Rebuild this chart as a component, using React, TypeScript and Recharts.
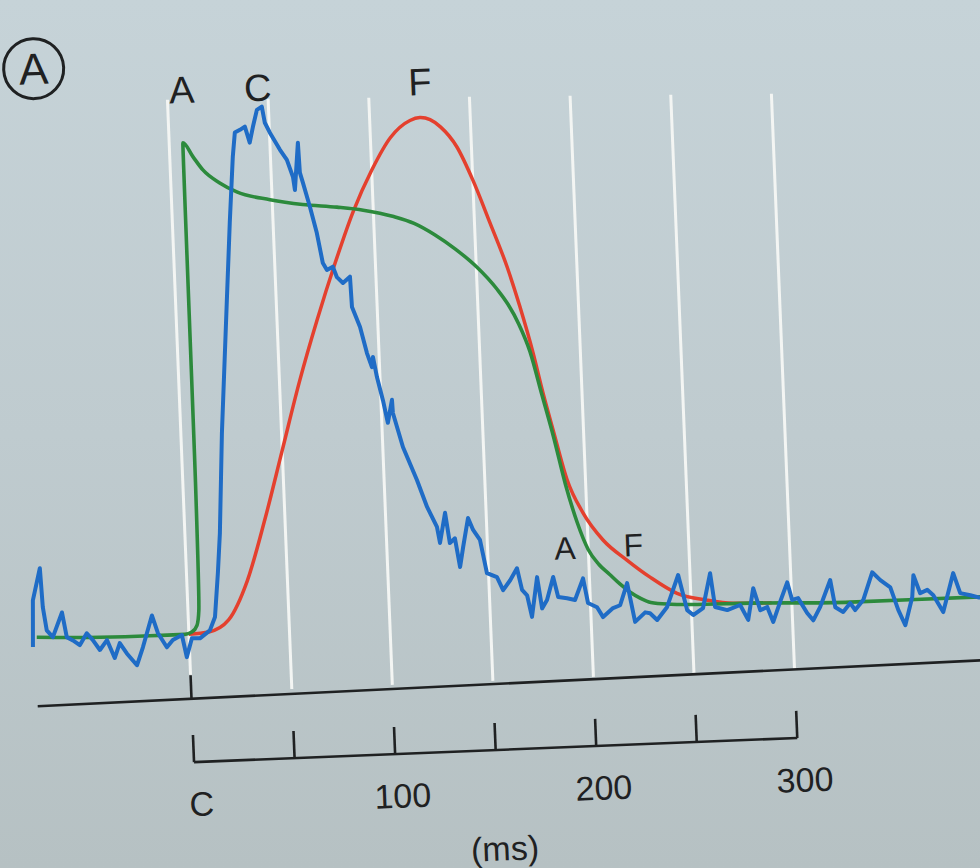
import React from 'react';
import { LineChart, Line, XAxis, YAxis, ReferenceLine, ReferenceDot } from 'recharts';

// time (ms) relative to stimulus C, normalized signal (0 = baseline, 1 = red peak)
const greenT = [-75.6, -44.3, -19.4, -2, 1.5, 4.2, 5.4, 6.3, 6.8, 11.5, 16.2, 24.3, 32.6, 48.9, 65, 82, 95, 110, 120, 130, 140, 150, 160, 165, 170, 175, 180, 185, 190, 195, 200, 205, 210, 215, 220, 225, 230, 240, 250, 279.3, 329, 393.7];
const greenV = [0.006, 0.001, 0, 0, 0.004, 0.017, 0.046, 0.3, 0.969, 0.941, 0.914, 0.887, 0.868, 0.85, 0.838, 0.83, 0.822, 0.807, 0.792, 0.768, 0.738, 0.702, 0.655, 0.625, 0.585, 0.53, 0.445, 0.36, 0.265, 0.19, 0.135, 0.105, 0.085, 0.065, 0.048, 0.035, 0.026, 0.021, 0.019, 0.017, 0.011, 0.011];

const redT = [0, 10, 20, 30, 40, 50, 60, 70, 80, 90, 100, 110, 120, 125, 130, 135, 142.8, 150, 157.7, 165.3, 170.9, 176.5, 180.6, 184.9, 190.9, 198.1, 207.5, 219.1, 230.1, 243.2, 258.1, 270.8, 290];
const redV = [0, 0.003, 0.025, 0.1, 0.22, 0.355, 0.49, 0.61, 0.72, 0.82, 0.9, 0.963, 0.995, 1.0, 0.995, 0.98, 0.939, 0.873, 0.787, 0.699, 0.619, 0.527, 0.448, 0.374, 0.274, 0.208, 0.153, 0.111, 0.076, 0.042, 0.026, 0.018, 0.016];

const blueT = [-77.7, -76.8, -72.7, -72, -70.5, -67.6, -62.6, -60.7, -57.7, -54.4, -50.7, -47.8, -44.5, -40.8, -37.3, -34.5, -31.2, -26.4, -23.1, -18, -15.4, -11.2, -8.1, -3.5, -1.5, 1.4, 5.4, 10.5, 13.3, 15.6, 17.4, 20.4, 25.4, 28.5, 31.3, 32.8, 35.4, 37.9, 40, 41.9, 44.2, 46.7, 47.9, 50.2, 54.8, 58.1, 60.8, 61.5, 63.9, 64.3, 65.6, 68.6, 71.5, 73.9, 75.8, 78.8, 80.6, 83.5, 87.1, 87.5, 91.1, 94, 96.2, 96.9, 98.5, 101, 103, 105.5, 105.7, 110, 116.3, 120.8, 125.3, 126.5, 129.6, 131.4, 134, 136, 137.9, 140.9, 143.2, 146.4, 149.2, 154.1, 156.9, 160.6, 164.2, 166.3, 168.7, 170.7, 174, 175.9, 178.5, 182, 184.1, 188.5, 192.4, 196.8, 198.8, 203.2, 206, 211.1, 214.7, 218.6, 221.8, 227, 229.4, 232.8, 238, 244.1, 247.9, 250.8, 255.8, 260, 261.8, 267.8, 274.3, 278, 281.1, 284.2, 287.7, 290.4, 294.2, 298.1, 300.2, 303.2, 307.4, 310.3, 314, 319.5, 321.5, 325.3, 329, 331.3, 335.5, 340.5, 344.4, 349.2, 352.7, 355.9, 359.9, 360.9, 363.9, 367.5, 370.4, 375, 380.7, 383.8, 388.8, 393.6];
const blueV = [-0.013, 0.079, 0.142, 0.065, 0.019, 0.005, 0.053, 0.004, -0.003, -0.013, 0.01, -0.004, -0.024, -0.005, -0.041, -0.012, -0.033, -0.057, -0.022, 0.04, 0.005, -0.024, -0.01, -0.001, -0.045, -0.008, -0.009, 0.006, 0.032, 0.118, 0.197, 0.394, 0.65, 0.808, 0.937, 0.985, 0.99, 0.996, 0.964, 0.995, 1.028, 1.034, 1.002, 0.982, 0.948, 0.927, 0.893, 0.867, 0.96, 0.901, 0.881, 0.833, 0.781, 0.721, 0.707, 0.713, 0.692, 0.68, 0.692, 0.632, 0.592, 0.54, 0.512, 0.532, 0.492, 0.446, 0.401, 0.446, 0.42, 0.352, 0.286, 0.232, 0.192, 0.16, 0.219, 0.159, 0.168, 0.111, 0.15, 0.207, 0.183, 0.163, 0.097, 0.088, 0.062, 0.081, 0.104, 0.061, 0.05, 0.007, 0.085, 0.023, 0.039, 0.084, 0.044, 0.041, 0.037, 0.079, 0.03, 0.021, 0.001, 0.018, 0.023, 0.066, -0.011, 0.007, 0.005, -0.009, 0.016, 0.078, 0.008, -0.002, 0.011, 0.079, 0.012, 0.005, 0.014, -0.016, 0.046, 0.002, 0.008, -0.022, 0.017, 0.055, 0.02, 0.023, -0.007, -0.022, 0.004, 0.056, 0.002, -0.008, 0.009, -0.005, 0.014, 0.068, 0.052, 0.037, -0.008, -0.039, 0.016, 0.059, 0.023, 0.029, 0.018, -0.016, 0.06, 0.02, 0.015, 0.009];

const gridTimes = [0, 50, 100, 150, 200, 250, 300];
const scaleTicks = [0, 50, 100, 150, 200, 250, 300];
const scaleLabels = ['C', '100', '200', '300'];
const scaleLabelTimes = [0, 100, 200, 300];
const unitLabel = '(ms)';
const curveLabelText = ['A', 'C', 'F', 'A', 'F'];
const curveLabelT = [7.3, 45.1, 125.7, 188.5, 222.4];
const curveLabelV = [1.074, 1.072, 1.071, 0.14, 0.141];
const panelLabel = 'A';

const greenData = greenT.map((t, i) => ({ t, v: greenV[i] }));
const redData = redT.map((t, i) => ({ t, v: redV[i] }));
const blueData = blueT.map((t, i) => ({ t, v: blueV[i] }));

const INK = '#1f2122';
const FONT = '"Liberation Sans", Arial, sans-serif';

export default function App() {
  return (
    <div
      style={{
        position: 'absolute',
        left: 0,
        top: 0,
        width: 980,
        height: 868,
        overflow: 'hidden',
        background: 'linear-gradient(180deg, #c6d3d8 0%, #bfcbcf 50%, #b6c1c3 100%)',
        fontFamily: FONT,
      }}
    >
      <div style={{ width: 980, height: 868, transform: 'rotate(-2.3deg)', transformOrigin: '490px 434px' }}>
        <LineChart width={980} height={868} margin={{ top: 13.6, right: 4, bottom: 2.64, left: 0 }}>
          <XAxis type="number" dataKey="t" domain={[-90, 395]} hide allowDataOverflow />
          <YAxis type="number" dataKey="v" domain={[-0.48, 1.2]} hide allowDataOverflow />
          {gridTimes.map((t) => (
            <ReferenceLine
              key={'g' + t}
              segment={[{ x: t, y: t === 0 ? -0.08 : -0.116 }, { x: t, y: 1.055 - 0.00012 * t }]}
              stroke="#f3f5f3"
              strokeWidth={3}
              ifOverflow="visible"
            />
          ))}
          <ReferenceLine segment={[{ x: -76.5, y: -0.13 }, { x: 395, y: -0.114 }]} stroke={INK} strokeWidth={2.6} ifOverflow="visible" />
          <ReferenceLine segment={[{ x: 0, y: -0.128 }, { x: 0, y: -0.081 }]} stroke={INK} strokeWidth={2.6} ifOverflow="visible" />
          <ReferenceLine segment={[{ x: 0, y: -0.2525 }, { x: 300, y: -0.2525 }]} stroke={INK} strokeWidth={2.6} ifOverflow="visible" />
          {scaleTicks.map((t) => (
            <ReferenceLine
              key={'s' + t}
              segment={[{ x: t, y: -0.2525 }, { x: t, y: -0.199 }]}
              stroke={INK}
              strokeWidth={2.6}
              ifOverflow="visible"
            />
          ))}
          {scaleLabels.map((txt, i) => (
            <ReferenceDot
              key={'sl' + i}
              x={scaleLabelTimes[i] + 3}
              y={-0.335}
              r={1}
              fill="none"
              stroke="none"
              label={{ value: txt, position: 'center', fill: INK, fontSize: 34, fontFamily: FONT }}
            />
          ))}
          <ReferenceDot
            x={152.7}
            y={-0.447}
            r={1}
            fill="none"
            stroke="none"
            label={{ value: unitLabel, position: 'center', fill: INK, fontSize: 34, fontFamily: FONT }}
          />
          {curveLabelText.map((txt, i) => (
            <ReferenceDot
              key={'cl' + i}
              x={curveLabelT[i]}
              y={curveLabelV[i]}
              r={1}
              fill="none"
              stroke="none"
              label={{ value: txt, position: 'center', fill: INK, fontSize: i < 3 ? 38 : 32, fontFamily: FONT }}
            />
          ))}
          <ReferenceDot
            x={-65.8}
            y={1.127}
            r={30}
            fill="none"
            stroke={INK}
            strokeWidth={3}
            label={{ value: panelLabel, position: 'center', fill: INK, fontSize: 44, fontFamily: FONT }}
          />
          <Line data={redData} dataKey="v" type="monotone" stroke="#e4402e" strokeWidth={3.5} dot={false} isAnimationActive={false} />
          <Line data={greenData} dataKey="v" type="monotone" stroke="#2c8a3c" strokeWidth={3.6} dot={false} isAnimationActive={false} />
          <Line data={blueData} dataKey="v" type="linear" stroke="#1f6cc6" strokeWidth={4} dot={false} strokeLinejoin="round" isAnimationActive={false} />
        </LineChart>
      </div>
    </div>
  );
}
